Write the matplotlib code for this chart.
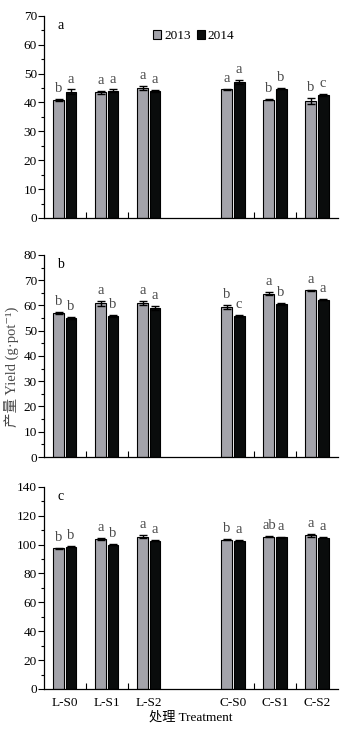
import numpy as np
import matplotlib
matplotlib.use("Agg")
import matplotlib.pyplot as plt
from matplotlib.ticker import MultipleLocator, FixedLocator

plt.rcParams['font.family'] = ['Liberation Serif', 'Noto Sans CJK SC', 'DejaVu Serif']

treatments = ['L-S0', 'L-S1', 'L-S2', 'C-S0', 'C-S1', 'C-S2']
years = ['2013', '2014']
positions = [0, 1, 2, 4, 5, 6]

# panel a
a_2013 = [40.8, 43.6, 45.0, 44.5, 41.0, 40.6]
a_2013_err = [0.3, 0.5, 0.7, 0.3, 0.3, 1.1]
a_2014 = [43.7, 44.0, 44.0, 47.1, 44.8, 42.7]
a_2014_err = [0.8, 0.5, 0.3, 0.7, 0.3, 0.3]
a_let13 = ['b', 'a', 'a', 'a', 'b', 'b']
a_let14 = ['a', 'a', 'a', 'a', 'b', 'c']

# panel b
b_2013 = [57.0, 60.8, 60.8, 59.2, 64.7, 66.0]
b_2013_err = [0.4, 0.9, 0.8, 0.8, 0.6, 0.3]
b_2014 = [55.0, 55.8, 58.8, 55.8, 60.5, 62.3]
b_2014_err = [0.4, 0.5, 0.8, 0.3, 0.3, 0.3]
b_let13 = ['b', 'a', 'a', 'b', 'a', 'a']
b_let14 = ['b', 'b', 'a', 'c', 'b', 'a']

# panel c
c_2013 = [97.5, 104.0, 105.6, 103.5, 105.6, 106.3]
c_2013_err = [0.4, 0.6, 0.8, 0.6, 0.6, 0.8]
c_2014 = [98.5, 99.8, 102.6, 102.8, 105.0, 104.8]
c_2014_err = [0.4, 0.4, 0.3, 0.6, 0.4, 0.3]
c_let13 = ['b', 'a', 'a', 'b', 'ab', 'a']
c_let14 = ['b', 'b', 'a', 'a', 'a', 'a']

panels = [
    ('a', a_2013, a_2013_err, a_2014, a_2014_err, a_let13, a_let14, 70, 10),
    ('b', b_2013, b_2013_err, b_2014, b_2014_err, b_let13, b_let14, 80, 10),
    ('c', c_2013, c_2013_err, c_2014, c_2014_err, c_let13, c_let14, 140, 20),
]

fig = plt.figure(figsize=(3.51, 7.31), dpi=100)
bottoms = [0.7018, 0.3748, 0.0575]
gray = '#a3a3aa'
w = 0.26
off = 0.145
x = np.array(positions)
ekw = dict(ecolor='black', elinewidth=1, capsize=3, capthick=1)

for (name, v13, e13, v14, e14, l13, l14, ymax, step), bot in zip(panels, bottoms):
    ax = fig.add_axes([0.125, bot, 0.838, 0.2765])
    ax.bar(x - off, v13, w, yerr=e13, color=gray, edgecolor='black', linewidth=0.8,
           error_kw=ekw, label=years[0])
    ax.bar(x + off, v14, w, yerr=e14, color='#0a0c0c', edgecolor='black', linewidth=0.8,
           error_kw=ekw, label=years[1])
    for xi, v, e, t in zip(x - off, v13, e13, l13):
        ax.annotate(t, (xi, v + e), xytext=(0, 5), textcoords='offset points',
                    ha='center', va='baseline', fontsize=10.5, color='#4a4a4a')
    for xi, v, e, t in zip(x + off, v14, e14, l14):
        ax.annotate(t, (xi, v + e), xytext=(0, 5), textcoords='offset points',
                    ha='center', va='baseline', fontsize=10.5, color='#4a4a4a')
    ax.set_xlim(-0.5, 6.5)
    ax.set_ylim(0, ymax)
    ax.yaxis.set_major_locator(MultipleLocator(step))
    ax.yaxis.set_minor_locator(MultipleLocator(step / 2))
    ax.set_xticks(positions)
    ax.xaxis.set_minor_locator(FixedLocator([0.5, 1.5, 4.5, 5.5]))
    ax.tick_params(axis='x', which='major', length=0, labelsize=9.5, pad=6)
    ax.tick_params(axis='x', which='minor', direction='in', length=4, width=0.8)
    ax.tick_params(axis='y', which='major', direction='out', length=4, width=0.8, labelsize=9.5, pad=1)
    ax.tick_params(axis='y', which='minor', direction='out', length=2, width=0.8)
    if name == 'c':
        ax.set_xticklabels(treatments)
        ax.set_xlabel('处理 Treatment', fontsize=9.5, labelpad=1)
    else:
        ax.set_xticklabels([])
    for s in ['top', 'right']:
        ax.spines[s].set_visible(False)
    for s in ['left', 'bottom']:
        ax.spines[s].set_linewidth(0.9)
    ax.text(0.045, 0.985, name, transform=ax.transAxes, fontsize=10, va='top', ha='left')
    if name == 'a':
        ax.legend(loc='center', bbox_to_anchor=(0.51, 0.9), ncol=2, frameon=False,
                  fontsize=9.5, handlelength=0.6, handleheight=0.6, handletextpad=0.2,
                  columnspacing=0.5)

fig.text(0.033, 1 - 367 / 731, '产量 Yield (g·pot⁻¹)', rotation=90,
         ha='center', va='center', fontsize=10.5, color='#4a4a4a')

fig.savefig('out.png', dpi=100)
